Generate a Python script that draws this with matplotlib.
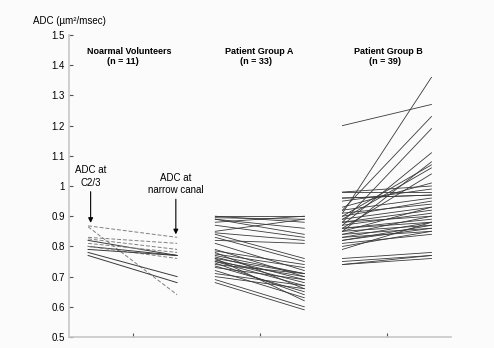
import matplotlib
matplotlib.use("Agg")
import matplotlib.pyplot as plt

plt.rcParams['font.family'] = ['Liberation Sans', 'DejaVu Sans']

# ADC values (um^2/msec) at C2/3 and at the narrow canal
normal_c23 = [0.868, 0.865, 0.83, 0.825, 0.82, 0.81, 0.80, 0.80, 0.79, 0.78, 0.77]
normal_narrow = [0.83, 0.64, 0.81, 0.79, 0.77, 0.78, 0.77, 0.76, 0.77, 0.70, 0.68]
normal_dashed = [True, True, True, True, False, True, False, True, False, False, False]

a_c23 = [0.90, 0.90, 0.895, 0.89, 0.89, 0.88, 0.87, 0.85, 0.845, 0.84,
         0.83, 0.82, 0.81, 0.79, 0.785, 0.78, 0.775, 0.77, 0.765, 0.76,
         0.76, 0.755, 0.75, 0.75, 0.745, 0.74, 0.735, 0.73, 0.72, 0.71,
         0.70, 0.69, 0.68]
a_narrow = [0.90, 0.88, 0.89, 0.86, 0.84, 0.90, 0.83, 0.89, 0.82, 0.76,
            0.75, 0.81, 0.72, 0.70, 0.74, 0.66, 0.73, 0.71, 0.69, 0.62,
            0.71, 0.68, 0.70, 0.67, 0.64, 0.71, 0.65, 0.69, 0.63, 0.67,
            0.66, 0.60, 0.59]

b_c23 = [1.20, 0.91, 0.92, 0.88, 0.87, 0.85, 0.90, 0.89, 0.86, 0.98,
         0.98, 0.96, 0.95, 0.93, 0.92, 0.91, 0.90, 0.89, 0.88, 0.88,
         0.87, 0.86, 0.86, 0.85, 0.85, 0.84, 0.84, 0.83, 0.83, 0.82,
         0.82, 0.81, 0.80, 0.79, 0.76, 0.75, 0.74, 0.74, 0.96]
b_narrow = [1.27, 1.36, 1.23, 1.19, 1.11, 1.08, 1.07, 1.06, 1.04, 0.98,
            1.00, 0.97, 0.99, 1.01, 0.96, 0.94, 0.95, 0.93, 0.92, 0.90,
            0.91, 0.89, 0.88, 0.87, 0.93, 0.86, 0.90, 0.85, 0.88, 0.86,
            0.87, 0.84, 0.85, 0.88, 0.78, 0.77, 0.76, 0.77, 0.97]

group_titles = ['Noarmal Volunteers\n        (n = 11)',
                'Patient Group A\n      (n = 33)',
                'Patient Group B\n      (n = 39)']

fig = plt.figure(figsize=(4.94, 3.48), dpi=100, facecolor='#fbfbfb')
ax = fig.add_axes([0.1397, 0.0316, 0.7723, 0.8678])
ax.set_facecolor('#fbfbfb')

half = 0.35
for y0, y1, dashed in zip(normal_c23, normal_narrow, normal_dashed):
    if dashed:
        ax.plot([1 - half, 1 + half], [y0, y1], color='#808080', lw=0.7, ls=(0, (4, 2)))
    else:
        ax.plot([1 - half, 1 + half], [y0, y1], color='#3a3a3a', lw=0.7)

for y0, y1 in zip(a_c23, a_narrow):
    ax.plot([2 - half, 2 + half], [y0, y1], color='#3a3a3a', lw=0.6)

for y0, y1 in zip(b_c23, b_narrow):
    ax.plot([3 - half, 3 + half], [y0, y1], color='#3a3a3a', lw=0.6)

ax.set_xlim(0.5, 3.5)
ax.set_ylim(0.5, 1.5)
ax.set_xticks([1, 2, 3])
ax.set_xticklabels([])
ax.set_yticks([0.5, 0.6, 0.7, 0.8, 0.9, 1.0, 1.1, 1.2, 1.3, 1.4, 1.5])
ax.set_yticklabels(['0.5', '0.6', '0.7', '0.8', '0.9', '1', '1.1', '1.2', '1.3', '1.4', '1.5'])
ax.tick_params(direction='in', length=3, width=0.8, color='#555555', labelsize=7, pad=3)
for side in ['top', 'right']:
    ax.spines[side].set_visible(False)
for side in ['left', 'bottom']:
    ax.spines[side].set_color('#c8c8c8')
    ax.spines[side].set_linewidth(1.2)

ax.text(0.0, 1.035, 'ADC (µm²/msec)', transform=ax.transAxes, fontsize=7, ha='center')

title_x = [0.645, 1.725, 2.74]
for x, t in zip(title_x, group_titles):
    ax.text(x, 1.46, t, fontsize=6.5, fontweight='bold', ha='left', va='top', linespacing=1.15)

ax.annotate('ADC at\nC2/3', xy=(0.67, 0.878), xytext=(0.67, 0.995), fontsize=7,
            ha='center', va='bottom', linespacing=1.3,
            arrowprops=dict(arrowstyle='-|>', color='black', lw=0.8, mutation_scale=7, shrinkA=1, shrinkB=0))
ax.annotate('ADC at\nnarrow canal', xy=(1.34, 0.84), xytext=(1.34, 0.97), fontsize=7,
            ha='center', va='bottom', linespacing=1.3,
            arrowprops=dict(arrowstyle='-|>', color='black', lw=0.8, mutation_scale=7, shrinkA=1, shrinkB=0))

fig.savefig('out.png', dpi=100, facecolor=fig.get_facecolor())
